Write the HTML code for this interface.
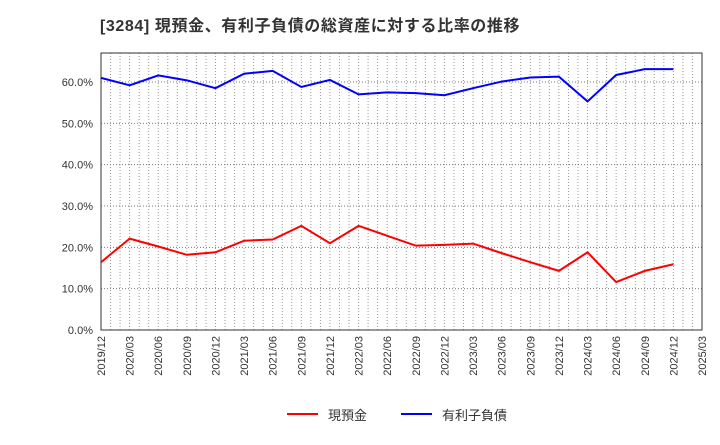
<!DOCTYPE html>
<html><head><meta charset="utf-8"><style>
body{margin:0;background:#fff;font-family:"Liberation Sans","Noto Sans CJK JP",sans-serif;}
</style></head><body>
<svg width="720" height="440" xmlns="http://www.w3.org/2000/svg">
<text x="100" y="31" font-size="16" letter-spacing="0.6" font-weight="bold" fill="#333" font-family="Liberation Sans, Noto Sans CJK JP, sans-serif">[3284]  現預金、有利子負債の総資産に対する比率の推移</text>
<g id="grid"></g><g id="axes"></g><g id="series"></g>
<g>
<line x1="287" y1="414" x2="318" y2="414" stroke="#f00" stroke-width="2"/>
<text x="328" y="420" font-size="13" fill="#333">現預金</text>
<line x1="401" y1="414" x2="432" y2="414" stroke="#00f" stroke-width="2"/>
<text x="442" y="420" font-size="13" fill="#333">有利子負債</text>
</g>
</svg>
<script>
const categories=["2019/12","2020/03","2020/06","2020/09","2020/12","2021/03","2021/06","2021/09","2021/12","2022/03","2022/06","2022/09","2022/12","2023/03","2023/06","2023/09","2023/12","2024/03","2024/06","2024/09","2024/12","2025/03"];
const cashValues=[16.4,22.1,20.2,18.2,18.8,21.6,21.9,25.2,21.0,25.2,22.8,20.4,20.6,20.9,18.6,16.4,14.3,18.8,11.6,14.3,15.9];
const debtValues=[61.0,59.2,61.6,60.4,58.5,62.0,62.7,58.8,60.5,57.0,57.5,57.3,56.8,58.5,60.1,61.1,61.3,55.3,61.7,63.1,63.1];
const yTicks=[0,10,20,30,40,50,60];
const yTickLabels=["0.0%","10.0%","20.0%","30.0%","40.0%","50.0%","60.0%"];
const L=101,R=702,T=53,B=330;
const x=i=>L+i*(R-L)/(categories.length-1);
const y=v=>B-v*(B-82)/60;
const ns="http://www.w3.org/2000/svg";
function mk(t,a,p){const e=document.createElementNS(ns,t);for(const k in a)e.setAttribute(k,a[k]);p.appendChild(e);return e;}
const grid=document.getElementById('grid'),axes=document.getElementById('axes'),ser=document.getElementById('series');
const stepM=(R-L)/((categories.length-1)*3);
for(let m=1;m<(categories.length-1)*3;m++){const gx=L+m*stepM;
const l=mk('line',{x1:gx,x2:gx,y1:T,y2:B,stroke:'#999','stroke-width':1,'stroke-dasharray':'1,2'},grid);

}
yTicks.forEach((v,i)=>{if(v>0){const l=mk('line',{x1:L,x2:R,y1:y(v),y2:y(v),stroke:'#777','stroke-width':1,'stroke-dasharray':'1,2'},grid);

}
const t=mk('text',{x:L-8,y:y(v)+4,'text-anchor':'end','font-size':11,fill:'#333'},axes);t.textContent=yTickLabels[i];

});
const fr=mk('rect',{x:L,y:T,width:R-L,height:B-T,fill:'none',stroke:'#333','stroke-width':1},axes);


categories.forEach((c,i)=>{const t=mk('text',{x:0,y:0,'text-anchor':'end','font-size':11,fill:'#333',transform:`translate(${x(i)+4},${B+6}) rotate(-90)`},axes);t.textContent=c;

});
function line(vals,col,name){const p=mk('polyline',{points:vals.map((v,i)=>x(i)+','+y(v)).join(' '),fill:'none',stroke:col,'stroke-width':2},ser);

}
line(cashValues,'#f00','cash-line');
line(debtValues,'#00f','debt-line');
</script>
</body></html>
